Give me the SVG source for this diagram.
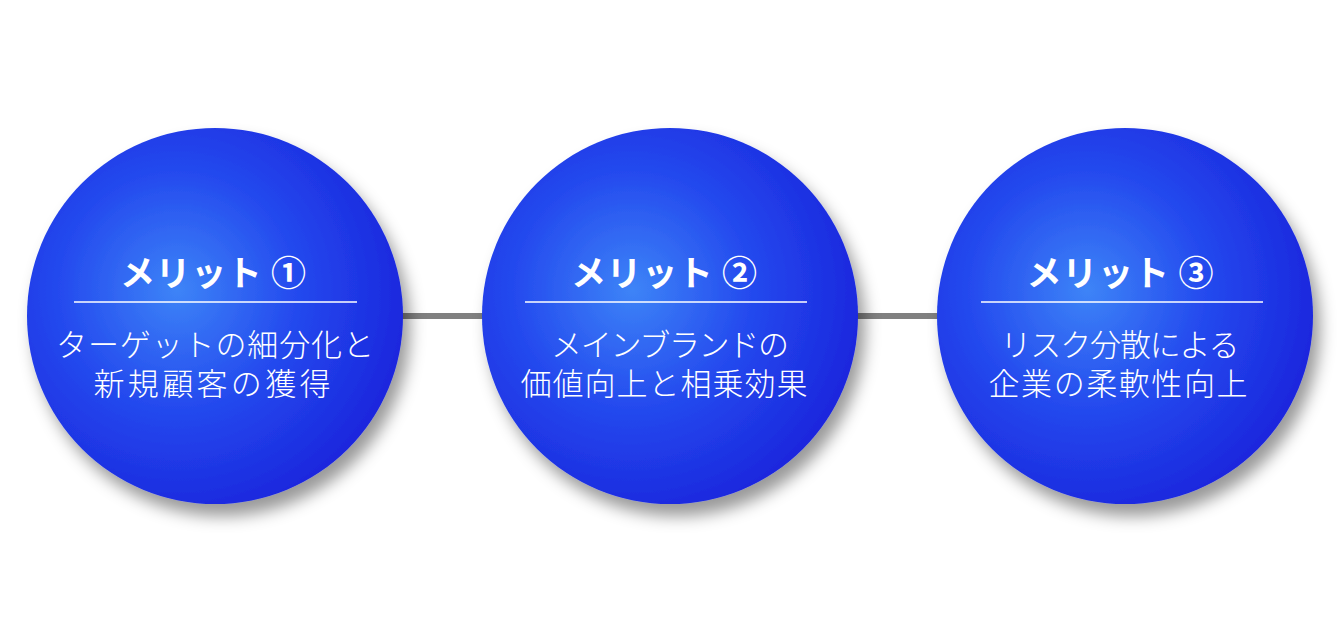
<svg xmlns="http://www.w3.org/2000/svg" width="1344" height="634" viewBox="0 0 1344 634">
<style>
.title{font-family:"Noto Sans CJK JP","Noto Sans",sans-serif;font-weight:700;font-size:35px;fill:#ffffff;text-anchor:middle}
.body{font-family:"Noto Sans CJK JP","Noto Sans",sans-serif;font-weight:300;font-size:31px;fill:#ffffff;text-anchor:middle}
.div{stroke:#ffffff;stroke-width:1.5}
.conn{stroke:#808080;stroke-width:6}
.ball{fill:url(#g);filter:url(#sh)}
</style>
<defs>
<radialGradient id="g" cx="0.4" cy="0.43" r="0.64">
<stop offset="0" stop-color="#3d84f7"/>
<stop offset="0.5" stop-color="#2449ee"/>
<stop offset="1" stop-color="#1a24dc"/>
</radialGradient>
<filter id="sh" x="-20%" y="-20%" width="150%" height="150%">
<feDropShadow dx="7" dy="12" stdDeviation="8" flood-color="#000000" flood-opacity="0.4"/>
</filter>
</defs>
<rect width="1344" height="634" fill="#ffffff"/>
<g id="connectors">
<line class="conn" x1="395" y1="316" x2="490" y2="316"/>
<line class="conn" x1="850" y1="316" x2="945" y2="316"/>
</g>
<g id="node1">
<circle class="ball" cx="215" cy="316" r="188"/>
<text class="title" x="213" y="286" textLength="186" lengthAdjust="spacing">メリット ①</text>
<line class="div" x1="74" y1="302" x2="357" y2="302"/>
<text class="body" x="215" y="356" textLength="318" lengthAdjust="spacing">ターゲットの細分化と</text>
<text class="body" x="212" y="395" textLength="237" lengthAdjust="spacing">新規顧客の獲得</text>
</g>
<g id="node2">
<circle class="ball" cx="670" cy="316" r="188"/>
<text class="title" x="664" y="286" textLength="186" lengthAdjust="spacing">メリット ②</text>
<line class="div" x1="525" y1="302" x2="807" y2="302"/>
<text class="body" x="670" y="356" textLength="238" lengthAdjust="spacing">メインブランドの</text>
<text class="body" x="664" y="395" textLength="287" lengthAdjust="spacing">価値向上と相乗効果</text>
</g>
<g id="node3">
<circle class="ball" cx="1125" cy="316" r="188"/>
<text class="title" x="1120" y="286" textLength="187" lengthAdjust="spacing">メリット ③</text>
<line class="div" x1="981" y1="302" x2="1263" y2="302"/>
<text class="body" x="1120" y="356" textLength="239" lengthAdjust="spacing">リスク分散による</text>
<text class="body" x="1118" y="395" textLength="259" lengthAdjust="spacing">企業の柔軟性向上</text>
</g>
</svg>
